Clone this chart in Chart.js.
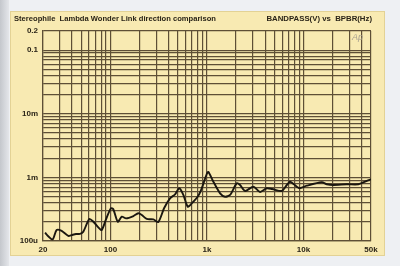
<!DOCTYPE html>
<html>
<head>
<meta charset="utf-8">
<script src="https://cdn.jsdelivr.net/npm/chart.js@4/dist/chart.umd.min.js"></script>
<style>
  html, body { margin:0; padding:0; }
  body { width:400px; height:266px; overflow:hidden; background:#eef0f3; position:relative; font-family:"Liberation Sans", Arial, sans-serif; }
  #strip { position:absolute; left:0; top:0; width:9px; height:266px; background:linear-gradient(to right,#c4c7cc,#e4e6ea); }
  #card { position:absolute; left:11px; top:12px; width:373px; height:243px; background:#f8eab2; box-shadow:0 0 0 1px #e3d295; }
  #wrap { position:absolute; left:0; top:0; width:400px; height:266px; }
  .hdr { position:absolute; top:14px; font-size:7.6px; line-height:10px; font-weight:bold; color:#2a2418; white-space:pre; }
  #tl { left:14px; }
  #tr { right:28px; font-size:7.8px; }
  #ap { position:absolute; left:352px; top:32px; font-size:9px; font-style:italic; color:#a9a290; }
</style>
</head>
<body>
<div id="strip"></div>
<div id="card"></div>
<div id="wrap"><canvas id="c" width="400" height="266"></canvas></div>
<div class="hdr" id="tl">Stereophile  Lambda Wonder Link direction comparison</div>
<div class="hdr" id="tr">BANDPASS(V) vs  BPBR(Hz)</div>
<div id="ap">Ap</div>
<script>
// Frequency (Hz)
const freqs = [21, 22.5, 25.2, 27.7, 31.2, 36.6, 39.7, 44, 48.3, 52.3,
  60.4, 66.4, 74.8, 81.2, 89.9, 101, 107, 119, 131, 145,
  173, 194, 211, 238, 278, 313, 359, 414, 467, 517,
  569, 632, 695, 813, 882, 994, 1033, 1164, 1366, 1538,
  1734, 2034, 2200, 2480, 3022, 3548, 4160, 4721, 5952, 6592,
  7254, 8512, 9058, 10806, 15454, 17420, 20380, 28060, 37020, 43440, 50000];
// Bandpass level (V)
const levels = [1.35e-4, 1.20e-4, 1.06e-4, 1.49e-4, 1.44e-4, 1.20e-4, 1.24e-4, 1.29e-4, 1.29e-4, 1.40e-4,
  2.22e-4, 2.01e-4, 1.64e-4, 1.49e-4, 2.19e-4, 3.27e-4, 3.15e-4, 2.01e-4, 2.41e-4, 2.27e-4,
  2.47e-4, 2.73e-4, 2.56e-4, 2.22e-4, 2.19e-4, 1.99e-4, 3.27e-4, 4.69e-4, 5.42e-4, 6.74e-4,
  5.29e-4, 3.46e-4, 3.91e-4, 5.16e-4, 6.74e-4, 1.13e-3, 1.22e-3, 8.56e-4, 5.62e-4, 4.97e-4,
  5.29e-4, 8.08e-4, 7.59e-4, 6.11e-4, 7.14e-4, 5.89e-4, 6.74e-4, 6.57e-4, 6.11e-4, 7.32e-4,
  8.56e-4, 7.14e-4, 6.74e-4, 7.40e-4, 8.37e-4, 7.79e-4, 7.59e-4, 7.79e-4, 7.79e-4, 8.56e-4, 9.33e-4];

// Labelled ticks
const xTickValues = [20, 100, 1000, 10000, 50000];
const xTickLabels = ['20', '100', '1k', '10k', '50k'];
const yTickValues = [0.2, 0.1, 0.01, 0.001, 0.0001];
const yTickLabels = ['0.2', '0.1', '10m', '1m', '100u'];

// Grid lines (log grid)
const xGridValues = [20,30,40,50,60,70,80,90,
  100,200,300,400,500,600,700,800,900,
  1000,2000,3000,4000,5000,6000,7000,8000,9000,
  10000,20000,30000,40000,50000];
const yGridValues = [0.0001,0.0002,0.0003,0.0004,0.0005,0.0006,0.0007,0.0008,0.0009,
  0.001,0.002,0.003,0.004,0.005,0.006,0.007,0.008,0.009,
  0.01,0.02,0.03,0.04,0.05,0.06,0.07,0.08,0.09,
  0.1,0.2];

function labelFor(v, vals, labs) {
  for (let i = 0; i < vals.length; i++) {
    if (Math.abs(v - vals[i]) / vals[i] < 1e-6) return labs[i];
  }
  return '';
}

const gridColor = '#5e4f36';
const textColor = '#2a2418';
const tickFont = { family: '"Liberation Sans", Arial, sans-serif', size: 8, weight: 'bold' };

new Chart(document.getElementById('c'), {
  type: 'scatter',
  data: {
    datasets: [{
      data: freqs.map((f, i) => ({ x: f, y: levels[i] })),
      showLine: true,
      borderColor: '#1a1610',
      borderWidth: 1.9,
      pointRadius: 0,
      tension: 0.25,
      fill: false
    }]
  },
  options: {
    responsive: false,
    animation: false,
    devicePixelRatio: 1,
    layout: { padding: { left: 0, top: 31, right: 29, bottom: 0 } },
    plugins: { legend: { display: false }, tooltip: { enabled: false }, title: { display: false } },
    scales: {
      x: {
        type: 'logarithmic',
        min: 20, max: 50000,
        afterBuildTicks: s => { s.ticks = xGridValues.map(v => ({ value: v })); },
        afterFit: s => { s.height = 25; },
        ticks: {
          autoSkip: false, maxRotation: 0, minRotation: 0, padding: 4,
          color: textColor, font: tickFont,
          callback: v => labelFor(v, xTickValues, xTickLabels)
        },
        grid: { color: gridColor, lineWidth: 1.2, drawTicks: false },
        border: { display: true, color: gridColor, width: 1.2 }
      },
      y: {
        type: 'logarithmic',
        min: 0.0001, max: 0.2,
        afterBuildTicks: s => { s.ticks = yGridValues.map(v => ({ value: v })); },
        afterFit: s => { s.width = 43; },
        ticks: {
          autoSkip: false, padding: 5,
          color: textColor, font: tickFont,
          callback: v => labelFor(v, yTickValues, yTickLabels)
        },
        grid: { color: gridColor, lineWidth: 1.2, drawTicks: false },
        border: { display: true, color: gridColor, width: 1.2 }
      }
    }
  }
});
</script>
</body>
</html>
